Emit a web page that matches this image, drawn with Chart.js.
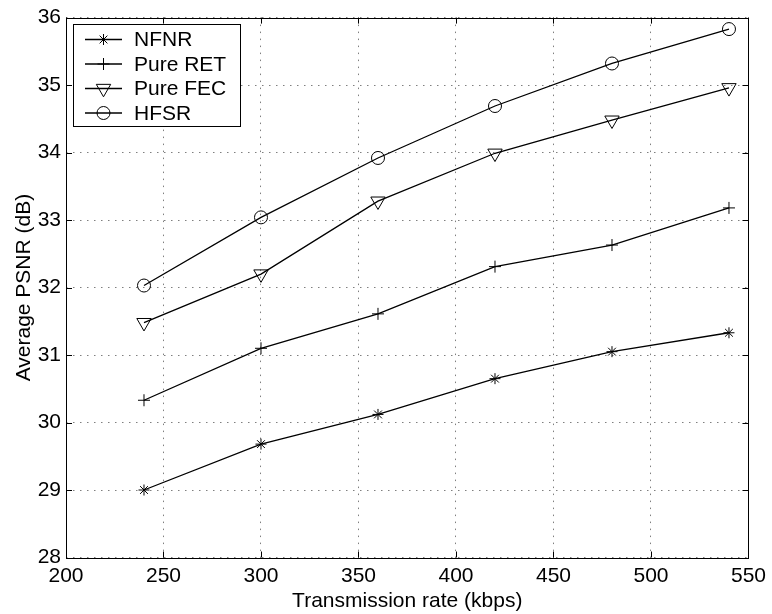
<!DOCTYPE html>
<html>
<head>
<meta charset="utf-8">
<script src="https://cdn.jsdelivr.net/npm/chart.js@4.4.1/dist/chart.umd.min.js"></script>
<style>
  html, body { margin: 0; padding: 0; background: #fff; }
  canvas { display: block; }
</style>
</head>
<body>
<canvas id="psnrChart" width="772" height="614"></canvas>
<script>
// Data
var rates = [240, 300, 360, 420, 480, 540];
var nfnr = [29.0, 29.68, 30.12, 30.65, 31.05, 31.33];
var pureRet = [30.33, 31.10, 31.61, 32.31, 32.63, 33.18];
var pureFec = [31.48, 32.20, 33.28, 33.99, 34.48, 34.96];
var hfsr = [32.03, 33.04, 33.92, 34.69, 35.32, 35.83];
var xTicks = [200, 250, 300, 350, 400, 450, 500, 550];
var yTicks = [28, 29, 30, 31, 32, 33, 34, 35, 36];

var FONT = "'Liberation Sans', Arial, Helvetica, sans-serif";

function pts(ys) {
    return rates.map(function (r, i) {
        return { x: r, y: ys[i] };
    });
}

function series(label, ys, style, radius, rotation) {
    return {
        label: label,
        data: pts(ys),
        borderColor: "#000",
        borderWidth: 1.3,
        pointStyle: style,
        pointRadius: radius,
        pointRotation: rotation || 0,
        pointBorderColor: "#000",
        pointBackgroundColor: "rgba(0,0,0,0)",
        pointBorderWidth: 1,
        tension: 0,
        fill: false,
    };
}

// MATLAB style box, inner ticks and legend inside the axes
var matlabBox = {
    id: "matlabBox",
    afterDraw: function (chart) {
        var ctx = chart.ctx;
        var a = chart.chartArea;
        var xs = chart.scales.x;
        var ys = chart.scales.y;
        var tl = 6;
        ctx.save();
        ctx.strokeStyle = "#000";
        ctx.lineWidth = 1;
        ctx.beginPath();
        xTicks.forEach(function (v) {
            var px = Math.round(xs.getPixelForValue(v)) + 0.5;
            ctx.moveTo(px, a.bottom);
            ctx.lineTo(px, a.bottom - tl);
            ctx.moveTo(px, a.top);
            ctx.lineTo(px, a.top + tl);
        });
        yTicks.forEach(function (v) {
            var py = Math.round(ys.getPixelForValue(v)) + 0.5;
            ctx.moveTo(a.left, py);
            ctx.lineTo(a.left + tl, py);
            ctx.moveTo(a.right, py);
            ctx.lineTo(a.right - tl, py);
        });
        ctx.stroke();
        ctx.strokeRect(Math.round(a.left) + 0.5, Math.round(a.top) + 0.5,
            Math.round(a.right - a.left), Math.round(a.bottom - a.top));

        // legend
        var lx = 73.5, ly = 24.5, lw = 167, lh = 102;
        ctx.fillStyle = "#fff";
        ctx.fillRect(lx, ly, lw, lh);
        ctx.strokeRect(lx, ly, lw, lh);
        ctx.font = "21px " + FONT;
        ctx.textBaseline = "middle";
        ctx.textAlign = "left";
        chart.data.datasets.forEach(function (ds, i) {
            var cy = 39.5 + i * 24.5;
            ctx.strokeStyle = "#000";
            ctx.lineWidth = 1.3;
            ctx.beginPath();
            ctx.moveTo(85, cy);
            ctx.lineTo(122, cy);
            ctx.stroke();
            ctx.lineWidth = 1;
            ctx.fillStyle = "rgba(0,0,0,0)";
            Chart.helpers.drawPoint(ctx, {
                pointStyle: ds.pointStyle,
                radius: ds.pointRadius,
                rotation: ds.pointRotation,
                borderWidth: 1,
            }, 103.5, cy);
            ctx.fillStyle = "#000";
            ctx.fillText(ds.label, 134, cy + 1);
        });
        ctx.restore();
    },
};

var gridStyle = {
    color: "rgba(0,0,0,0.5)",
    lineWidth: 1,
    drawTicks: false,
};

new Chart(document.getElementById("psnrChart"), {
    type: "line",
    data: {
        datasets: [
            series("NFNR", nfnr, "star", 5.5),
            series("Pure RET", pureRet, "cross", 6),
            series("Pure FEC", pureFec, "triangle", 8.3, 180),
            series("HFSR", hfsr, "circle", 6.5),
        ],
    },
    options: {
        responsive: false,
        devicePixelRatio: 1,
        animation: false,
        layout: { padding: { top: 15, right: 19, left: 0, bottom: 0 } },
        plugins: {
            legend: { display: false },
            tooltip: { enabled: false },
        },
        scales: {
            x: {
                type: "linear",
                min: 200,
                max: 550,
                afterBuildTicks: function (s) {
                    s.ticks = xTicks.map(function (v) { return { value: v }; });
                },
                afterFit: function (s) { s.height = 56.5; },
                grid: gridStyle,
                border: { display: false, dash: [1.5, 5.5] },
                ticks: {
                    color: "#000",
                    padding: 6,
                    font: { family: FONT, size: 21 },
                    maxRotation: 0,
                },
                title: {
                    display: true,
                    text: "Transmission rate (kbps)",
                    color: "#000",
                    font: { family: FONT, size: 21 },
                    padding: { top: 0, bottom: 0 },
                },
            },
            y: {
                min: 28,
                max: 36,
                afterBuildTicks: function (s) {
                    s.ticks = yTicks.map(function (v) { return { value: v }; });
                },
                afterFit: function (s) { s.width = 66; },
                grid: gridStyle,
                border: { display: false, dash: [1.5, 5.5] },
                ticks: {
                    color: "#000",
                    padding: 5,
                    font: { family: FONT, size: 21 },
                },
                title: {
                    display: true,
                    text: "Average PSNR (dB)",
                    color: "#000",
                    font: { family: FONT, size: 21 },
                    padding: { top: 12, bottom: 0 },
                },
            },
        },
    },
    plugins: [matlabBox],
});
</script>
</body>
</html>
